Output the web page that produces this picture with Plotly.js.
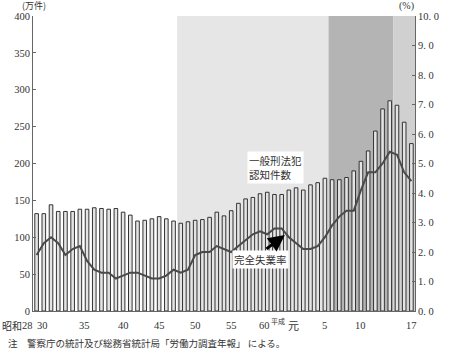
<!DOCTYPE html>
<html>
<head>
<meta charset="utf-8">
<script src="https://cdn.plot.ly/plotly-3.0.1.min.js"></script>
<style>html,body{margin:0;padding:0;background:#fff;}#chart{width:449px;height:354px;}</style>
</head>
<body>
<div id="chart"></div>
<script>
var years = [1953,1954,1955,1956,1957,1958,1959,1960,1961,1962,1963,1964,1965,1966,1967,1968,1969,1970,1971,1972,1973,1974,1975,1976,1977,1978,1979,1980,1981,1982,1983,1984,1985,1986,1987,1988,1989,1990,1991,1992,1993,1994,1995,1996,1997,1998,1999,2000,2001,2002,2003,2004,2005];
var crimes = [132,132,144,135,135,135,138,138,140,139,138,139,134,130,122,123,125,128,125,122,119,121,123,124,127,134,129,136,146,152,154,159,161,158,158,164,167,164,171,174,180,178,178,181,190,203,217,244,274,285,279,256,227];
var unemployment = [1.9,2.3,2.5,2.3,1.9,2.1,2.2,1.7,1.4,1.3,1.3,1.1,1.2,1.3,1.3,1.2,1.1,1.1,1.2,1.4,1.3,1.4,1.9,2.0,2.0,2.2,2.1,2.0,2.2,2.4,2.6,2.7,2.6,2.8,2.8,2.5,2.3,2.1,2.1,2.2,2.5,2.9,3.2,3.4,3.4,4.1,4.7,4.7,5.0,5.4,5.3,4.7,4.4];
var xTickYears = [1953,1955,1960,1965,1970,1975,1980,1985,1989,1993,1998,2005];
var xTickText = ['28','30','35','40','45','50','55','60','元','5','10','17'];
var leftTicks = [0,50,100,150,200,250,300,350,400];
var rightTicks = [0,1,2,3,4,5,6,7,8,9,10];
var rightTickText = ['0. 0','1. 0','2. 0','3. 0','4. 0','5. 0','6. 0','7. 0','8. 0','9. 0','10. 0'];
var periods = [[1972.5,1993.5],[1993.5,2002.5],[2002.5,2005.5]];

var FONT = 'Liberation Serif, Noto Sans CJK JP, serif';
var JFONT = 'Noto Sans CJK JP, sans-serif';
var periodColors = ['#e6e6e6','#b4b4b4','#d0d0d0'];

var shapes = periods.map(function(p,i){
  return {type:'rect', xref:'x', yref:'paper', x0:p[0], x1:p[1], y0:0, y1:1,
          fillcolor:periodColors[i], line:{width:0}, layer:'below'};
});

var xShifts = [-9,-8.5,-2.5,0,0,0,0,-3,-3,0,0,0];
var annotations = xTickYears.map(function(y,i){
  return {x:y, xref:'x', y:0, yref:'paper', yanchor:'middle', yshift:-14, xshift:xShifts[i],
          text:xTickText[i], showarrow:false, font:{family:(xTickText[i]==='元'?JFONT:FONT), size:(xTickText[i]==='元'?11:10.5), color:'#333'}};
});
annotations.push({x:1953, xref:'x', y:0, yref:'paper', yanchor:'middle', yshift:-14, xshift:-25,
  text:'昭和', showarrow:false, font:{family:JFONT, size:10, color:'#333'}});
annotations.push({x:1989, xref:'x', y:0, yref:'paper', yanchor:'middle', yshift:-10, xshift:-18,
  text:'平成', showarrow:false, font:{family:JFONT, size:7, color:'#333'}});
annotations.push({x:0, xref:'paper', y:1, yref:'paper', yanchor:'middle', yshift:10.5, xshift:-12,
  text:'(万件)', showarrow:false, borderpad:0, font:{family:JFONT, size:9, color:'#333'}});
annotations.push({x:1, xref:'paper', y:1, yref:'paper', yanchor:'middle', yshift:10.5, xshift:0,
  text:'(%)', showarrow:false, borderpad:0, font:{family:FONT, size:10, color:'#333'}});
annotations.push({x:0, xref:'paper', xanchor:'left', xshift:-27, y:0, yref:'paper', yanchor:'middle', yshift:-32,
  text:'注　警察庁の統計及び総務省統計局「労働力調査年報」 による。', showarrow:false,
  font:{family:JFONT, size:9.5, color:'#333'}});
annotations.push({x:1986.1, xref:'x', y:194.6, yref:'y', text:'一般刑法犯<br>認知件数', align:'left',
  showarrow:false, bgcolor:'#ffffff', borderpad:1, font:{family:JFONT, size:10.5, color:'#333'}});
annotations.push({x:1984.05, xref:'x', y:69.2, yref:'y', text:'完全失業率',
  showarrow:false, bgcolor:'#ffffff', borderpad:1, font:{family:JFONT, size:10.5, color:'#333'}});
annotations.push({x:1987.45, xref:'x', y:103, yref:'y', ax:1984.68, axref:'x', ay:82.7, ayref:'y',
  text:'', showarrow:true, arrowhead:2, arrowsize:1.1, arrowwidth:3, arrowcolor:'#000'});

var traces = [
  {type:'bar', x:years, y:crimes, width:0.5, marker:{color:'#e4e4e4', line:{color:'#333', width:1}}, hoverinfo:'none'},
  {type:'scatter', mode:'lines', x:years, y:unemployment, yaxis:'y2', line:{color:'#4a4a4a', width:2}, hoverinfo:'none'}
];

var layout = {
  width:449, height:354,
  margin:{l:33, r:34, t:16, b:43},
  paper_bgcolor:'#fff', plot_bgcolor:'rgba(0,0,0,0)',
  showlegend:false,
  xaxis:{range:[1952.5,2005.5], showticklabels:false, ticks:'', showgrid:false, zeroline:false,
         showline:true, linecolor:'#666', linewidth:1},
  yaxis:{range:[0,400], tickvals:leftTicks, ticks:'inside', ticklen:3, tickcolor:'#666',
         showgrid:false, zeroline:false, showline:true, linecolor:'#666', linewidth:1,
         tickfont:{family:FONT, size:10.5, color:'#333'}},
  yaxis2:{range:[0,10], overlaying:'y', side:'right', tickvals:rightTicks, ticktext:rightTickText,
          ticks:'inside', ticklen:3, tickcolor:'#666', showgrid:false, zeroline:false,
          showline:true, linecolor:'#666', linewidth:1, tickfont:{family:FONT, size:10.5, color:'#333'}},
  shapes:shapes,
  annotations:annotations
};

Plotly.newPlot('chart', traces, layout, {staticPlot:true, displayModeBar:false});
</script>
</body>
</html>
